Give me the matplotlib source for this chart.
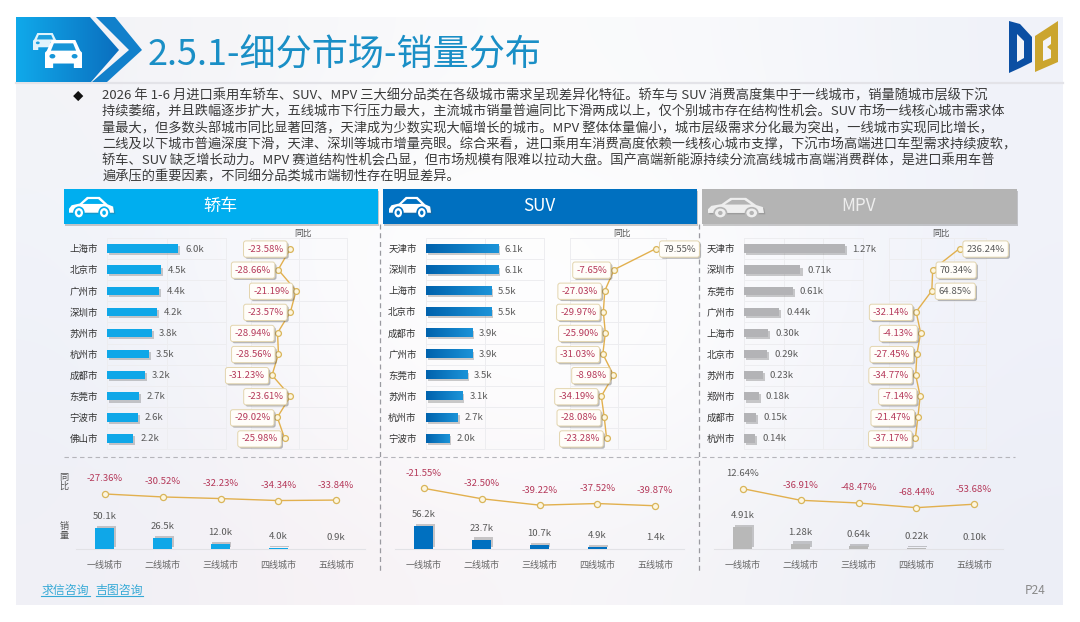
"""
细分市场销量分布 slide: three panels of city sales bars with yoy lines, plus city tier charts
"""

import matplotlib
matplotlib.use("Agg")
import matplotlib.pyplot as plt
import numpy as np
from matplotlib.colors import LinearSegmentedColormap, to_rgb
from matplotlib.patches import Ellipse, Polygon
from matplotlib.patheffects import withSimplePatchShadow

plt.rcParams['font.family'] = ['Noto Sans CJK SC', 'DejaVu Sans']

W, H = 1080, 622

TITLE = "2.5.1-细分市场-销量分布"
BODY_LINES = [
    "2026 年 1-6 月进口乘用车轿车、SUV、MPV 三大细分品类在各级城市需求呈现差异化特征。轿车与 SUV 消费高度集中于一线城市，销量随城市层级下沉",
    "持续萎缩，并且跌幅逐步扩大，五线城市下行压力最大，主流城市销量普遍同比下滑两成以上，仅个别城市存在结构性机会。SUV 市场一线核心城市需求体",
    "量最大，但多数头部城市同比显著回落，天津成为少数实现大幅增长的城市。MPV 整体体量偏小，城市层级需求分化最为突出，一线城市实现同比增长，",
    "二线及以下城市普遍深度下滑，天津、深圳等城市增量亮眼。综合来看，进口乘用车消费高度依赖一线核心城市支撑，下沉市场高端进口车型需求持续疲软，",
    "轿车、SUV 缺乏增长动力。MPV 赛道结构性机会凸显，但市场规模有限难以拉动大盘。国产高端新能源持续分流高线城市高端消费群体，是进口乘用车普",
    "遍承压的重要因素，不同细分品类城市端韧性存在明显差异。",
]

tiers = ["一线城市", "二线城市", "三线城市", "四线城市", "五线城市"]

# 轿车
sedan_cities = ["上海市", "北京市", "广州市", "深圳市", "苏州市", "杭州市", "成都市", "东莞市", "宁波市", "佛山市"]
sedan_sales = [6.0, 4.5, 4.4, 4.2, 3.8, 3.5, 3.2, 2.7, 2.6, 2.2]
sedan_yoy = [-23.58, -28.66, -21.19, -23.57, -28.94, -28.56, -31.23, -23.61, -29.02, -25.98]
sedan_tier_sales = [50.1, 26.5, 12.0, 4.0, 0.9]
sedan_tier_yoy = [-27.36, -30.52, -32.23, -34.34, -33.84]

# SUV
suv_cities = ["天津市", "深圳市", "上海市", "北京市", "成都市", "广州市", "东莞市", "苏州市", "杭州市", "宁波市"]
suv_sales = [6.1, 6.1, 5.5, 5.5, 3.9, 3.9, 3.5, 3.1, 2.7, 2.0]
suv_yoy = [79.55, -7.65, -27.03, -29.97, -25.90, -31.03, -8.98, -34.19, -28.08, -23.28]
suv_tier_sales = [56.2, 23.7, 10.7, 4.9, 1.4]
suv_tier_yoy = [-21.55, -32.50, -39.22, -37.52, -39.87]

# MPV
mpv_cities = ["天津市", "深圳市", "东莞市", "广州市", "上海市", "北京市", "苏州市", "郑州市", "成都市", "杭州市"]
mpv_sales = [1.27, 0.71, 0.61, 0.44, 0.30, 0.29, 0.23, 0.18, 0.15, 0.14]
mpv_yoy = [236.24, 70.34, 64.85, -32.14, -4.13, -27.45, -34.77, -7.14, -21.47, -37.17]
mpv_tier_sales = [4.91, 1.28, 0.64, 0.22, 0.10]
mpv_tier_yoy = [12.64, -36.91, -48.47, -68.44, -53.68]

RED = "#b5395a"
GREY = "#5a5a5a"
LINE = "#e2b04e"

fig = plt.figure(figsize=(W / 100, H / 100), dpi=100, facecolor="white")


def px_axes(x0, y0, x1, y1, **kw):
    """axes placed by pixel box, y counted from the top of the picture"""
    ax = fig.add_axes([x0 / W, 1 - y1 / H, (x1 - x0) / W, (y1 - y0) / H], **kw)
    ax.patch.set_alpha(0)
    return ax


def shadow(offset=(1.5, -1.5), alpha=0.3):
    return [withSimplePatchShadow(offset=offset, alpha=alpha, shadow_rgbFace="#555555")]


def gradient_fill(ax, extent, c0, c1, clip=None, zorder=2, vertical=False):
    cmap = LinearSegmentedColormap.from_list("g", [c0, c1])
    grad = np.linspace(0, 1, 64).reshape(-1, 1) if vertical else np.linspace(0, 1, 64).reshape(1, -1)
    im = ax.imshow(grad, extent=extent, aspect="auto", cmap=cmap, zorder=zorder)
    if clip is not None:
        im.set_clip_path(clip)
    return im


def side_car(ax, x, y, w, h, color, hole):
    """small side view car icon"""
    pts = [(0, .58), (.06, .42), (.24, .34), (.40, .04), (.68, .04), (.86, .38), (.98, .48), (1, .76), (0, .76)]
    body = Polygon([(x + a * w, y + b * h) for a, b in pts], fc=color, ec="none", zorder=5)
    body.set_path_effects(shadow((1, -1), 0.25))
    ax.add_patch(body)
    win = [(.30, .36), (.43, .14), (.65, .14), (.77, .36)]
    ax.add_patch(Polygon([(x + a * w, y + b * h) for a, b in win], fc=hole, ec="none", zorder=6))
    for cx in (.22, .78):
        ax.add_patch(Ellipse((x + cx * w, y + .76 * h), .22 * w, .5 * h, fc=color, ec=hole, lw=1.2, zorder=6))
        ax.add_patch(Ellipse((x + cx * w, y + .76 * h), .08 * w, .2 * h, fc=hole, ec="none", zorder=7))


def front_car(ax, x, y, w, h, color, hole, z=5):
    """front view car icon for the title block"""
    pts = [(.18, 0), (.82, 0), (.95, .38), (1, .45), (1, 1), (.78, 1), (.78, .84), (.22, .84), (.22, 1), (0, 1), (0, .45), (.05, .38)]
    ax.add_patch(Polygon([(x + a * w, y + b * h) for a, b in pts], fc=color, ec="none", zorder=z))
    win = [(.24, .12), (.76, .12), (.84, .38), (.16, .38)]
    ax.add_patch(Polygon([(x + a * w, y + b * h) for a, b in win], fc=hole, ec="none", zorder=z))
    for cx in (.2, .8):
        ax.add_patch(Ellipse((x + cx * w, y + .58 * h), .16 * w, .16 * h, fc=hole, ec="none", zorder=z))


def top_panel(bar_box, yoy_box, cities, sales, yoy, bar_max, bar_ticks, yoy_lim, yoy_ticks, color, fmt, gradient=None):
    """city sales bars on the left, yoy line with tooltips on the right"""
    y = np.arange(len(cities))
    ax = px_axes(*bar_box)
    bars = ax.barh(y, sales, height=0.4, color=color, zorder=3)
    for b, v in zip(bars, sales):
        b.set_path_effects(shadow())
        if gradient:
            gradient_fill(ax, [0, v, b.get_y() + b.get_height(), b.get_y()], gradient[0], gradient[1], zorder=3.1)
        ax.annotate(fmt.format(v), (v, b.get_y() + b.get_height() / 2), xytext=(7, -0.5), textcoords="offset pixels",
                    ha="left", va="center", fontsize=6.9, color=GREY)
    ax.set_xlim(0, bar_max)
    ax.set_ylim(len(cities) - 0.5, -0.5)
    ax.set_xticks(bar_ticks)
    ax.set_xticklabels([])
    ax.set_yticks(y)
    ax.set_yticklabels(cities, fontsize=6.8, color="#333333")
    ax.set_yticks(np.arange(len(cities) + 1) - 0.5, minor=True)
    ax.tick_params(which="both", length=0, pad=6.5)
    ax.grid(axis="x", color="#ededf0", lw=0.7)
    ax.grid(axis="y", which="minor", color="#ededf0", lw=0.7)
    ax.set_axisbelow(True)
    for s in ax.spines.values():
        s.set_color("#ededf0")
        s.set_linewidth(0.7)

    ax2 = px_axes(*yoy_box)
    ax2.plot(yoy, y, color=LINE, lw=1.0, marker="o", ms=4.2, mfc="#fdf6e0", mec="#d9b55a", mew=0.9, zorder=4)
    for v, yy in zip(yoy, y):
        left = v < 0
        ann = ax2.annotate(f"{v:.2f}%", (v, yy), xytext=(-7 if left else 7, -0.5), textcoords="offset pixels",
                           ha="right" if left else "left", va="center", fontsize=6.9,
                           color=RED if left else GREY, zorder=6,
                           bbox=dict(boxstyle="round,pad=0.38,rounding_size=0.25", fc="#fffdf9", ec="#e3d5ae", lw=0.7))
        ann.get_bbox_patch().set_path_effects(shadow((1.2, -1.2), 0.4))
    ax2.set_xlim(*yoy_lim)
    ax2.set_ylim(len(cities) - 0.5, -0.5)
    ax2.set_xticks(yoy_ticks)
    ax2.set_xticklabels([])
    ax2.set_yticks(np.arange(len(cities) + 1) - 0.5)
    ax2.set_yticklabels([])
    ax2.tick_params(length=0)
    ax2.grid(axis="both", color="#ededf0", lw=0.7)
    ax2.set_axisbelow(True)
    for s in ax2.spines.values():
        s.set_color("#ededf0")
        s.set_linewidth(0.7)
    ax2.text(0.54, 1.0, "同比", transform=ax2.transAxes, ha="center", va="bottom", fontsize=6.3, color="#555555")


def tier_panel(x0, x1, sales, yoy, sales_max, yoy_lim, color, fmt):
    """city tier yoy line above the city tier sales columns"""
    x = np.arange(len(tiers))
    ax = px_axes(x0, 475, x1, 515)
    ax.plot(x, yoy, color=LINE, lw=1.0, marker="o", ms=4.4, mfc="#fdf6e0", mec="#d9b55a", mew=0.9)
    for i, v in zip(x, yoy):
        ax.annotate(f"{v:.2f}%", (i, v), xytext=(0, 15), textcoords="offset pixels", ha="center", va="center",
                    fontsize=6.9, color=RED if v < 0 else GREY, annotation_clip=False)
    ax.set_xlim(-0.5, 4.5)
    ax.set_ylim(*yoy_lim)
    ax.axis("off")

    ax2 = px_axes(x0, 515, x1, 549.3)
    bars = ax2.bar(x, sales, width=0.33, color=color, zorder=3)
    for b, v in zip(bars, sales):
        b.set_path_effects(shadow((1, 1.5), 0.3))
        ax2.annotate(fmt.format(v), (b.get_x() + b.get_width() / 2, v), xytext=(0, 11.5), textcoords="offset pixels",
                     ha="center", va="center", fontsize=6.9, color=GREY, annotation_clip=False)
    ax2.set_xlim(-0.5, 4.5)
    ax2.set_ylim(0, sales_max)
    ax2.set_xticks(x)
    ax2.set_xticklabels(tiers, fontsize=6.5, color="#666666")
    ax2.set_yticks([])
    ax2.tick_params(length=0, pad=8)
    for k in ("top", "left", "right"):
        ax2.spines[k].set_visible(False)
    ax2.spines["bottom"].set_color("#e2e2e6")


# Pixel canvas for slide furniture
bg = fig.add_axes([0, 0, 1, 1])
bg.axis("off")

bg_rows = [
    ["#f3f3f7", "#f8f8fa", "#fbfbfc", "#f8f9fb", "#f0f2f9"],
    ["#f1f3fa", "#fdfdfe", "#ffffff", "#fbfbfd", "#f0f2fa"],
    ["#eef1f8", "#fbf9fb", "#ffffff", "#fafafc", "#eef0f9"],
    ["#f0f0f6", "#f8f2f5", "#f8f6f9", "#f3f3f7", "#eceef6"],
]
bg_img = np.array([[to_rgb(c) for c in row] for row in bg_rows])
bg.imshow(bg_img, extent=[16, 1063, 605, 17], aspect="auto", interpolation="bicubic", zorder=0)
bg.set_xlim(0, W)
bg.set_ylim(H, 0)

bg.plot([16, 1063], [82.5, 82.5], color="#e3e3e8", lw=1.6, zorder=1)

# Title block
main_poly = Polygon([(16, 17), (90, 17), (119, 50), (91, 82), (16, 82)], transform=bg.transData, fc="none", ec="none")
bg.add_patch(main_poly)
gradient_fill(bg, [16, 119, 82, 17], "#10a9ea", "#0b6fbf", clip=main_poly, zorder=2)
bg.add_patch(Polygon([(96, 17), (115, 17), (142, 50), (107, 82), (92, 82), (129, 50)], fc="#1180cb", ec="none", zorder=2))
front_car(bg, 33, 33, 24, 17, "#dff3fc", "#1c9fdf", z=3)
front_car(bg, 45, 40, 37, 28, "white", "#1796d8", z=4)
bg.set_xlim(0, W)
bg.set_ylim(H, 0)
bg.text(148, 56, TITLE, fontsize=26, color="#1a8fc6", ha="left", va="center", zorder=5)

# Logo
bg.add_patch(Polygon([(1009, 21), (1020, 24), (1032, 37), (1032, 62), (1020, 68), (1009, 73)], fc="#0b4fa3", ec="none", zorder=3))
bg.add_patch(Polygon([(1017, 34), (1024, 41), (1024, 58), (1017, 62)], fc="#f3f4f8", ec="none", zorder=4))
bg.add_patch(Polygon([(1035, 36), (1058, 21), (1058, 62), (1035, 72)], fc="#cba52e", ec="none", zorder=3))
bg.add_patch(Polygon([(1043, 41), (1051, 36), (1051, 44), (1047, 47), (1051, 50), (1051, 58), (1043, 61)], fc="#f3f4f8", ec="none", zorder=4))

# Body text
bg.text(78.5, 96.5, "◆", fontsize=7.5, color="#111111", ha="center", va="center", zorder=5)
for i, line in enumerate(BODY_LINES):
    bg.text(102.5, 96 + i * 16.25, line, fontsize=9.5, color="#3a3a3a", ha="left", va="center", zorder=5)

# Panel headers
headers = [("轿车", 64, 378, 220.5, "#00aeef", "white"), ("SUV", 383, 697, 539, "#0070c0", "white"),
           ("MPV", 702, 1017, 859, "#b4b4b4", "#eeeeee")]
for name, x0, x1, tx, col, tc in headers:
    p = Polygon([(x0, 189), (x1, 189), (x1, 223.5), (x0, 223.5)], fc=col, ec="none", zorder=3)
    p.set_path_effects(shadow((1, -1.5), 0.3))
    bg.add_patch(p)
    bg.text(tx, 206, name, fontsize=12.3, color=tc, ha="center", va="center", zorder=5)
side_car(bg, 69, 196, 45, 22, "white", "#00aeef")
side_car(bg, 389, 196, 42, 22, "white", "#0070c0")
side_car(bg, 708, 197, 56, 21, "#eeeeee", "#b4b4b4")

# Dashed separators
bg.plot([64, 1015], [457.3, 457.3], color="#b5b5bb", lw=0.8, ls=(0, (4, 3)), zorder=1)
for vx in (380, 699.3):
    bg.plot([vx, vx], [224, 574], color="#9a9aa0", lw=0.9, ls=(0, (4, 3)), zorder=1)

bg.text(64, 481.5, "同\n比", fontsize=6.6, color="#555555", ha="center", va="center", linespacing=0.95, zorder=5)
bg.text(64, 531, "销\n量", fontsize=6.6, color="#555555", ha="center", va="center", linespacing=0.95, zorder=5)

# Footer
for word, x0, x1 in [("求信咨询", 41, 90), ("吉图咨询", 96, 143)]:
    bg.text((x0 + x1) / 2, 590, word, fontsize=8.6, color="#35a9d6", ha="center", va="center", zorder=5)
    bg.plot([x0, x1], [596, 596], color="#35a9d6", lw=0.8, zorder=5)
bg.text(1046, 591, "P24", fontsize=8.6, color="#8a8a8a", ha="right", va="center", zorder=5)
bg.set_xlim(0, W)
bg.set_ylim(H, 0)

# Charts
top_panel((107, 238, 226, 449), (251, 238, 347, 449), sedan_cities, sedan_sales, sedan_yoy,
          10, [5], (-40, 0), [-20], "#0fa7e8", "{:.1f}k")
top_panel((425.7, 238, 544, 449), (569.6, 238, 666, 449), suv_cities, suv_sales, suv_yoy,
          10, [5], (-100, 100), [0], "#0070c0", "{:.1f}k", gradient=("#0062ad", "#1b93d8"))
top_panel((744.3, 238, 863, 449), (889, 238, 986, 449), mpv_cities, mpv_sales, mpv_yoy,
          1.5, [0.5, 1.0], (-200, 400), [0, 200], "#b3b3b6", "{:.2f}k")

tier_panel(76, 365, sedan_tier_sales, sedan_tier_yoy, 81.7, (-49.7, -7.2), "#0fa7e8", "{:.1f}k")
tier_panel(395, 684, suv_tier_sales, suv_tier_yoy, 83.6, (-49.6, -7.5), "#0070c0", "{:.1f}k")
tier_panel(714, 1003, mpv_tier_sales, mpv_tier_yoy, 7.66, (-99.8, 71.2), "#b8b8b8", "{:.2f}k")

fig.savefig("out.png", dpi=100, facecolor="white")
